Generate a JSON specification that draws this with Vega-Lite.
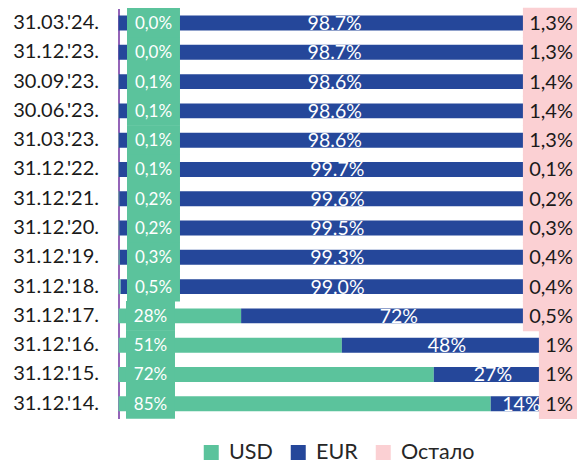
{
  "$schema": "https://vega.github.io/schema/vega-lite/v6.json",
  "width": 458.5,
  "height": 410,
  "autosize": {"type": "none"},
  "padding": {"left": 118.5, "top": 8.4, "right": 0, "bottom": 44.6},
  "config": {"view": {"stroke": null}, "font": "Lato"},
  "data": {"values": [
    {"d": "31.03.'24.", "cur": "USD", "v": 0.0, "t": "0,0%"},
    {"d": "31.03.'24.", "cur": "EUR", "v": 98.7, "t": "98.7%"},
    {"d": "31.03.'24.", "cur": "Остало", "v": 1.3, "t": "1,3%"},
    {"d": "31.12.'23.", "cur": "USD", "v": 0.0, "t": "0,0%"},
    {"d": "31.12.'23.", "cur": "EUR", "v": 98.7, "t": "98.7%"},
    {"d": "31.12.'23.", "cur": "Остало", "v": 1.3, "t": "1,3%"},
    {"d": "30.09.'23.", "cur": "USD", "v": 0.1, "t": "0,1%"},
    {"d": "30.09.'23.", "cur": "EUR", "v": 98.6, "t": "98.6%"},
    {"d": "30.09.'23.", "cur": "Остало", "v": 1.4, "t": "1,4%"},
    {"d": "30.06.'23.", "cur": "USD", "v": 0.1, "t": "0,1%"},
    {"d": "30.06.'23.", "cur": "EUR", "v": 98.6, "t": "98.6%"},
    {"d": "30.06.'23.", "cur": "Остало", "v": 1.4, "t": "1,4%"},
    {"d": "31.03.'23.", "cur": "USD", "v": 0.1, "t": "0,1%"},
    {"d": "31.03.'23.", "cur": "EUR", "v": 98.6, "t": "98.6%"},
    {"d": "31.03.'23.", "cur": "Остало", "v": 1.3, "t": "1,3%"},
    {"d": "31.12.'22.", "cur": "USD", "v": 0.1, "t": "0,1%"},
    {"d": "31.12.'22.", "cur": "EUR", "v": 99.7, "t": "99.7%"},
    {"d": "31.12.'22.", "cur": "Остало", "v": 0.1, "t": "0,1%"},
    {"d": "31.12.'21.", "cur": "USD", "v": 0.2, "t": "0,2%"},
    {"d": "31.12.'21.", "cur": "EUR", "v": 99.6, "t": "99.6%"},
    {"d": "31.12.'21.", "cur": "Остало", "v": 0.2, "t": "0,2%"},
    {"d": "31.12.'20.", "cur": "USD", "v": 0.2, "t": "0,2%"},
    {"d": "31.12.'20.", "cur": "EUR", "v": 99.5, "t": "99.5%"},
    {"d": "31.12.'20.", "cur": "Остало", "v": 0.3, "t": "0,3%"},
    {"d": "31.12.'19.", "cur": "USD", "v": 0.3, "t": "0,3%"},
    {"d": "31.12.'19.", "cur": "EUR", "v": 99.3, "t": "99.3%"},
    {"d": "31.12.'19.", "cur": "Остало", "v": 0.4, "t": "0,4%"},
    {"d": "31.12.'18.", "cur": "USD", "v": 0.5, "t": "0,5%"},
    {"d": "31.12.'18.", "cur": "EUR", "v": 99.0, "t": "99.0%"},
    {"d": "31.12.'18.", "cur": "Остало", "v": 0.4, "t": "0,4%"},
    {"d": "31.12.'17.", "cur": "USD", "v": 28, "t": "28%"},
    {"d": "31.12.'17.", "cur": "EUR", "v": 72, "t": "72%"},
    {"d": "31.12.'17.", "cur": "Остало", "v": 0.5, "t": "0,5%"},
    {"d": "31.12.'16.", "cur": "USD", "v": 51, "t": "51%"},
    {"d": "31.12.'16.", "cur": "EUR", "v": 48, "t": "48%"},
    {"d": "31.12.'16.", "cur": "Остало", "v": 1, "t": "1%"},
    {"d": "31.12.'15.", "cur": "USD", "v": 72, "t": "72%"},
    {"d": "31.12.'15.", "cur": "EUR", "v": 27, "t": "27%"},
    {"d": "31.12.'15.", "cur": "Остало", "v": 1, "t": "1%"},
    {"d": "31.12.'14.", "cur": "USD", "v": 85, "t": "85%"},
    {"d": "31.12.'14.", "cur": "EUR", "v": 14, "t": "14%"},
    {"d": "31.12.'14.", "cur": "Остало", "v": 1, "t": "1%"}
  ]},
  "transform": [
    {"calculate": "indexof(['USD','EUR','Остало'], datum.cur)", "as": "o"},
    {"stack": "v", "groupby": ["d"], "sort": [{"field": "o", "order": "ascending"}], "as": ["x0", "x1"]},
    {"calculate": "(datum.x0 + datum.x1) / 2", "as": "xm"}
  ],
  "encoding": {
    "y": {
      "field": "d", "type": "nominal", "title": null,
      "scale": {
        "domain": ["31.03.'24.", "31.12.'23.", "30.09.'23.", "30.06.'23.", "31.03.'23.", "31.12.'22.", "31.12.'21.", "31.12.'20.", "31.12.'19.", "31.12.'18.", "31.12.'17.", "31.12.'16.", "31.12.'15.", "31.12.'14."],
        "paddingInner": 0.49, "paddingOuter": 0.245
      },
      "axis": {
        "domain": true, "domainColor": "#7030A0", "domainWidth": 1.5,
        "ticks": false, "labelPadding": 20, "labelFontSize": 20,
        "labelColor": "#1a1a1a", "labelFont": "Lato", "grid": false
      }
    }
  },
  "layer": [
    {
      "mark": {"type": "bar"},
      "encoding": {
        "x": {"field": "x0", "type": "quantitative", "scale": {"domain": [0, 104.7], "nice": false}, "axis": null},
        "x2": {"field": "x1"},
        "color": {
          "field": "cur", "type": "nominal",
          "scale": {"domain": ["USD", "EUR", "Остало"], "range": ["#5BC39C", "#25479A", "#FBD0D3"]},
          "legend": {
            "title": null, "orient": "none", "direction": "horizontal",
            "legendX": 82, "legendY": 433,
            "symbolType": "square", "symbolSize": 225, "symbolStrokeWidth": 0,
            "labelFontSize": 21.5, "labelFont": "Lato", "labelColor": "#262626",
            "labelOffset": 7, "columnPadding": 14
          }
        }
      }
    },
    {
      "transform": [{"filter": "datum.cur == 'USD' && datum.v < 1"}],
      "mark": {"type": "bar", "color": "#5BC39C", "height": {"band": 2}},
      "encoding": {"x": {"datum": 1.94}, "x2": {"datum": 14.04}}
    },
    {
      "transform": [{"filter": "datum.cur == 'USD' && datum.v >= 1"}],
      "mark": {"type": "bar", "color": "#5BC39C", "height": {"band": 2}},
      "encoding": {"x": {"datum": 1.71}, "x2": {"datum": 12.9}}
    },
    {
      "transform": [{"filter": "datum.cur == 'Остало' && datum.t != '1%'"}],
      "mark": {"type": "bar", "color": "#FBD0D3", "height": {"band": 2.05}},
      "encoding": {"x": {"datum": 92.35}, "x2": {"datum": 104.7}}
    },
    {
      "transform": [{"filter": "datum.cur == 'Остало' && datum.t == '1%'"}],
      "mark": {"type": "bar", "color": "#FBD0D3", "height": {"band": 2.05}},
      "encoding": {"x": {"datum": 96.0}, "x2": {"datum": 104.7}}
    },
    {
      "transform": [{"filter": "datum.cur == 'USD' && datum.v < 1"}],
      "mark": {"type": "text", "color": "#ffffff", "fontSize": 17, "font": "Lato", "align": "center", "baseline": "middle", "dy": 1},
      "encoding": {"x": {"datum": 7.99}, "text": {"field": "t"}}
    },
    {
      "transform": [{"filter": "datum.cur == 'USD' && datum.v >= 1"}],
      "mark": {"type": "text", "color": "#ffffff", "fontSize": 17, "font": "Lato", "align": "center", "baseline": "middle", "dy": 1},
      "encoding": {"x": {"datum": 7.3}, "text": {"field": "t"}}
    },
    {
      "transform": [{"filter": "datum.cur == 'EUR'"}],
      "mark": {"type": "text", "color": "#ffffff", "fontSize": 19.5, "font": "Lato", "align": "center", "baseline": "middle", "dy": 1},
      "encoding": {"x": {"field": "xm", "type": "quantitative"}, "text": {"field": "t"}}
    },
    {
      "transform": [{"filter": "datum.cur == 'Остало'"}],
      "mark": {"type": "text", "color": "#1a1a1a", "fontSize": 20, "font": "Lato", "align": "right", "baseline": "middle", "dy": 1},
      "encoding": {"x": {"datum": 103.77}, "text": {"field": "t"}}
    }
  ]
}
